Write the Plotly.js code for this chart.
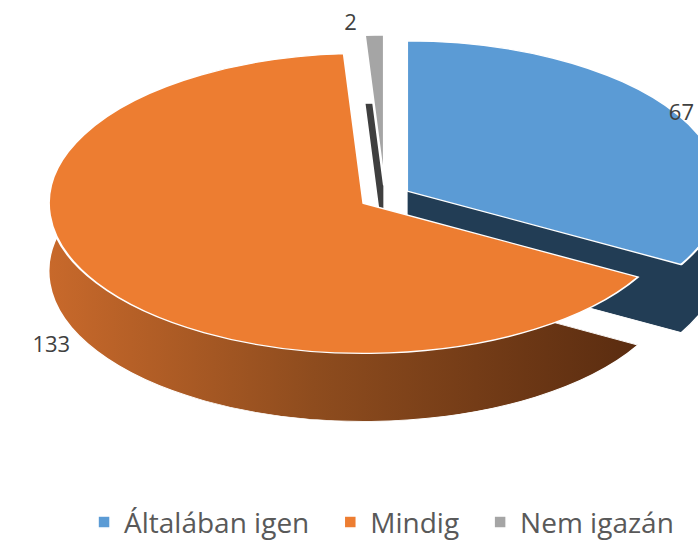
<!DOCTYPE html>
<html>
<head>
<meta charset="utf-8">
<script src="https://cdn.plot.ly/plotly-3.0.1.min.js"></script>
<style>html,body{margin:0;padding:0;background:#fff;}#chart{width:698px;height:543px;}</style>
</head>
<body>
<div id="chart"></div>
<script>
// Data
const labels = ['Általában igen', 'Mindig', 'Nem igazán'];
const values = [67, 133, 2];
const faceColors = ['#5B9BD5', '#ED7D31', '#A5A5A5'];
const sideColors = ['#223D55', '#8A4A1E', '#3F3F3F'];
const pulls = [0.08, 0.08, 0.08];

// Style / geometry of the pseudo-3D projection
const ELL_A = 315, ELL_B = 150;      // ellipse half-axes of the top face
const ELL_CX = 385, ELL_CY = 197;    // ellipse center (px)
const DEPTH = 68;                    // visible side depth (px)
const LEGEND_EXTRA_GAP = 16;         // extra spacing between legend entries (px)
const LEGEND_TARGET_MID = 522;       // vertical middle of the legend text box (px)
const W = 698, H = 543;
const topDomY = [0.25, 1];
const r0 = (H * (topDomY[1] - topDomY[0])) / 2 / 1.08;
const sy0 = ELL_B / r0;
const dOff = (DEPTH / sy0) / H;

const sideTrace = {
  type: 'pie', labels: labels, values: values, sort: false, direction: 'clockwise', rotation: 0,
  pull: pulls, textinfo: 'none', showlegend: false, hoverinfo: 'none',
  marker: {colors: sideColors, line: {color: '#ffffff', width: 1}},
  domain: {x: [0, 1], y: [topDomY[0] - dOff, topDomY[1] - dOff]}
};
const faceTrace = {
  type: 'pie', labels: labels, values: values, sort: false, direction: 'clockwise', rotation: 0,
  pull: pulls, textinfo: 'value', textposition: 'outside', hoverinfo: 'none',
  textfont: {family: 'Open Sans, Noto Sans, sans-serif', size: 22, color: '#404040'},
  marker: {colors: faceColors, line: {color: '#ffffff', width: 1.5}},
  domain: {x: [0, 1], y: topDomY}
};

const layout = {
  width: W, height: H,
  margin: {l: 0, r: 0, t: 0, b: 0},
  paper_bgcolor: '#ffffff',
  showlegend: true,
  legend: {orientation: 'h', x: 0.1204, xanchor: 'left', y: 0.0148, yanchor: 'middle',
           font: {family: 'Open Sans, Noto Sans, sans-serif', size: 28, color: '#595959'},
           itemwidth: 30, traceorder: 'normal'}
};

const gd = document.getElementById('chart');
Plotly.newPlot(gd, [sideTrace, faceTrace], layout, {staticPlot: true, displayModeBar: false}).then(function () {
  const cd = gd.calcdata[1][0];
  const r = cd.r || r0;
  const cx = cd.cx !== undefined ? cd.cx : W / 2;
  const cy = cd.cy !== undefined ? cd.cy : H * (1 - (topDomY[0] + topDomY[1]) / 2);
  const sx = ELL_A / r, sy = ELL_B / r;
  const layer = gd.querySelector('.pielayer');
  layer.setAttribute('transform',
    'translate(' + ELL_CX + ',' + ELL_CY + ') scale(' + sx + ',' + sy + ') translate(' + (-cx) + ',' + (-cy) + ')');
  const traces = layer.querySelectorAll('g.trace');
  // keep label glyphs undistorted, push lower labels below the side, keep inside the view
  traces[1].querySelectorAll('text.slicetext').forEach(function (t) {
    const tr = t.getAttribute('transform') || '';
    t.setAttribute('transform', tr + ' scale(' + (1 / sx) + ',' + (1 / sy) + ')');
    const bb = t.getBoundingClientRect();
    let dx = 0, dy = 0;
    if ((bb.top + bb.bottom) / 2 > ELL_CY) dy = DEPTH * 0.85;
    if (bb.right > W - 4) dx = (W - 4) - bb.right;
    if (bb.left < 4) dx = 4 - bb.left;
    if (bb.top + dy < 2) dy = 2 - bb.top;
    if (dx || dy) {
      t.setAttribute('transform', 'translate(' + (dx / sx) + ',' + (dy / sy) + ') ' + tr + ' scale(' + (1 / sx) + ',' + (1 / sy) + ')');
    }
  });
  // gradient on the orange side
  const svg = gd.querySelector('.main-svg');
  const ns = 'http://www.w3.org/2000/svg';
  const defs = document.createElementNS(ns, 'defs');
  const lg = document.createElementNS(ns, 'linearGradient');
  lg.setAttribute('id', 'orangeSide');
  lg.setAttribute('x1', '0'); lg.setAttribute('y1', '0'); lg.setAttribute('x2', '1'); lg.setAttribute('y2', '0');
  [['0', '#C8692B'], ['0.45', '#8E4C1E'], ['1', '#5A2C10']].forEach(function (s) {
    const st = document.createElementNS(ns, 'stop');
    st.setAttribute('offset', s[0]); st.setAttribute('stop-color', s[1]);
    lg.appendChild(st);
  });
  defs.appendChild(lg);
  svg.insertBefore(defs, svg.firstChild);
  const sideSlices = traces[0].querySelectorAll('g.slice path.surface');
  if (sideSlices[1]) sideSlices[1].style.fill = 'url(#orangeSide)';
  // widen legend spacing and place the legend row
  gd.querySelectorAll('.legend [clip-path]').forEach(function (e) { e.removeAttribute('clip-path'); });
  const items = gd.querySelectorAll('.legend g.traces');
  items.forEach(function (g, i) {
    const m = /translate\(\s*([-\d.e]+)[ ,]+([-\d.e]+)\s*\)/.exec(g.getAttribute('transform') || '');
    if (m) g.setAttribute('transform', 'translate(' + (parseFloat(m[1]) + i * LEGEND_EXTRA_GAP) + ',' + m[2] + ')');
  });
  const legendG = gd.querySelector('g.legend');
  if (legendG && items.length) {
    const tb = items[0].querySelector('.legendtext').getBoundingClientRect();
    const mid = (tb.top + tb.bottom) / 2;
    const shift = LEGEND_TARGET_MID - mid;
    const m = /translate\(\s*([-\d.e]+)[ ,]+([-\d.e]+)\s*\)/.exec(legendG.getAttribute('transform') || '');
    if (m) legendG.setAttribute('transform', 'translate(' + m[1] + ',' + (parseFloat(m[2]) + shift) + ')');
  }
});
</script>
</body>
</html>
